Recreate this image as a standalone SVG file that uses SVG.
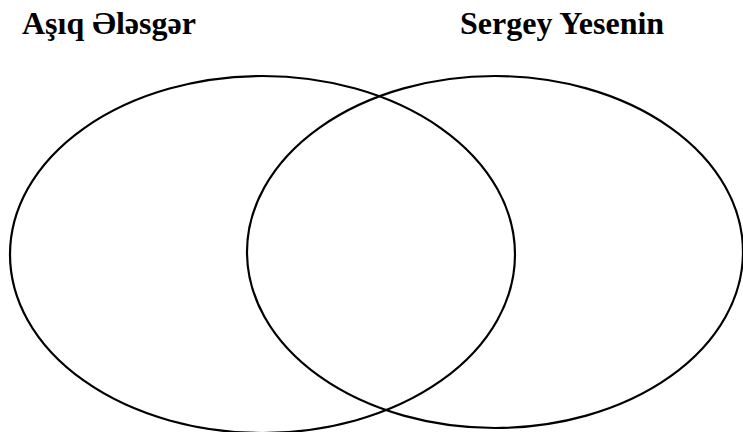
<svg xmlns="http://www.w3.org/2000/svg" width="743" height="432" viewBox="0 0 743 432">
<defs>
<style>
ellipse{fill:none;stroke:#000;stroke-width:2.2}
</style>
</defs>
<rect width="743" height="432" fill="#fff"/>
<g id="left-set">
<ellipse cx="262.5" cy="254.5" rx="252.5" ry="178.5"/>
<text x="22" y="34" font-family="Liberation Serif" font-weight="bold" font-size="32" fill="#000">Aşıq Ələsgər</text>
</g>
<g id="right-set">
<ellipse cx="495" cy="252" rx="248" ry="176"/>
<text x="460" y="34" font-family="Liberation Serif" font-weight="bold" font-size="32" fill="#000">Sergey Yesenin</text>
</g>
<g id="connectors"></g>
</svg>
